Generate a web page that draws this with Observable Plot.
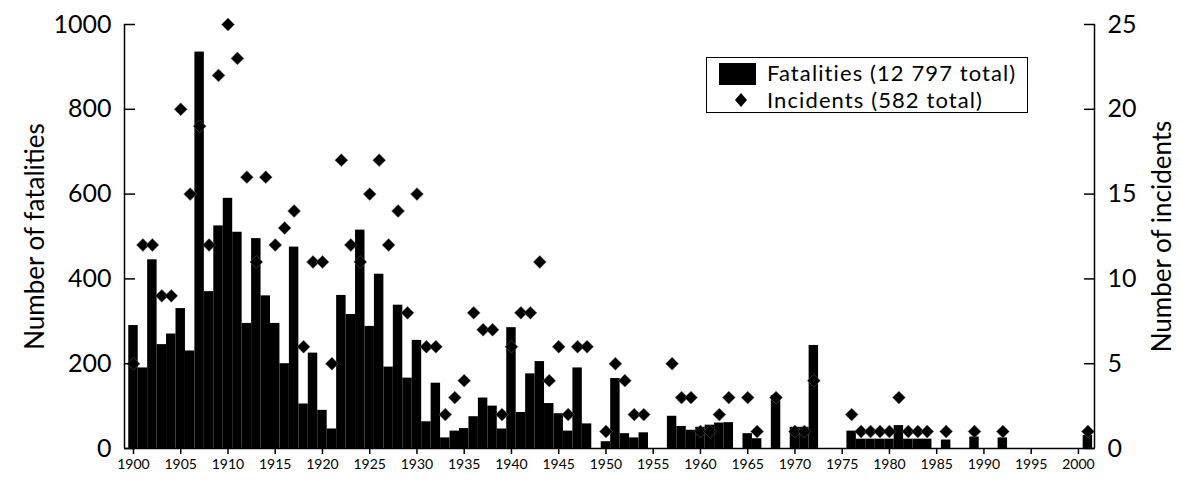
<!DOCTYPE html>
<html><head><meta charset="utf-8">
<script src="https://cdn.jsdelivr.net/npm/d3@7"></script>
<script src="https://cdn.jsdelivr.net/npm/@observablehq/plot@0.6"></script>
<style>
body{margin:0;background:#fff;}
#wrap{position:relative;width:1180px;height:483px;font-family:Lato,"Liberation Sans",sans-serif;color:#000;}
#legend{position:absolute;left:706px;top:57px;width:320px;height:54px;border:1.5px solid #000;background:#fff;}
#legend .sw{position:absolute;left:12px;top:5px;width:37px;height:22px;background:#000;}
#legend .dm{position:absolute;left:27px;top:34px;}
#legend .t{position:absolute;left:60px;font-size:22px;line-height:22px;letter-spacing:1.1px;white-space:nowrap;}
</style></head><body><div id="wrap"></div>
<script>
const years = [1900,1901,1902,1903,1904,1905,1906,1907,1908,1909,1910,1911,1912,1913,1914,1915,1916,1917,1918,1919,1920,1921,1922,1923,1924,1925,1926,1927,1928,1929,1930,1931,1932,1933,1934,1935,1936,1937,1938,1939,1940,1941,1942,1943,1944,1945,1946,1947,1948,1950,1951,1952,1953,1954,1957,1958,1959,1960,1961,1962,1963,1965,1966,1968,1970,1971,1972,1976,1977,1978,1979,1980,1981,1982,1983,1984,1986,1989,1992,2001];
const fatalities = [290,190,445,245,270,330,230,935,370,525,590,510,295,495,360,295,200,475,105,225,90,46,361,316,515,288,411,192,338,166,255,63,154,25,41,47,75,119,100,46,285,85,176,205,106,82,41,190,58,16,165,35,25,37,76,52,43,50,55,60,61,35,23,125,50,50,243,41,22,22,22,22,54,22,22,22,20,27,25,31];
const incidents = [5,12,12,9,9,20,15,19,12,22,25,23,16,11,16,12,13,14,6,11,11,5,17,12,11,15,17,12,14,8,15,6,6,2,3,4,8,7,7,2,6,8,8,11,4,6,2,6,6,1,5,4,2,2,5,3,3,1,1,2,3,3,1,3,1,1,4,2,1,1,1,1,3,1,1,1,1,1,1,1];
const xTicks = [1900,1905,1910,1915,1920,1925,1930,1935,1940,1945,1950,1955,1960,1965,1970,1975,1980,1985,1990,1995,2000];
const fatTicks = [0,200,400,600,800,1000];
const xDomain = [1899.05, 2001.7];
const fatMax = 1000, incMax = 25;
const ratio = fatMax / incMax;

const data = years.map((y, i) => ({year: y, fat: fatalities[i], inc: incidents[i]}));

const plot = Plot.plot({
  width: 1180, height: 483,
  marginLeft: 124, marginRight: 86, marginTop: 24, marginBottom: 35,
  style: {fontFamily: "Lato, 'Liberation Sans', sans-serif", color: "#000", background: "#fff", overflow: "visible"},
  x: {domain: xDomain},
  y: {domain: [0, fatMax]},
  marks: [
    Plot.rectY(data, {x1: d => d.year - 0.5, x2: d => d.year + 0.5, y: "fat", fill: "#000"}),
    Plot.dot(data.filter(d => d.inc > 0), {x: "year", y: d => d.inc * ratio, symbol: "diamond2", r: 5.8, fill: "#000", stroke: "#666", strokeWidth: 0.5}),
    Plot.ruleX(xDomain, {stroke: "#000", strokeWidth: 1.5}),
    Plot.ruleY([0], {stroke: "#000", strokeWidth: 1.5}),
    Plot.axisX({ticks: xTicks, tickFormat: d => String(d), tickSize: 6, tickPadding: 5, fontSize: 14, strokeWidth: 1.5, label: null}),
    Plot.axisY({ticks: fatTicks, anchor: "left", tickSize: 11, dx: 11, tickPadding: 13, fontSize: 25, strokeWidth: 1.5, tickFormat: d => String(d), label: null}),
    Plot.axisY({ticks: fatTicks, anchor: "right", tickSize: 11, dx: -11, tickPadding: 13, fontSize: 25, strokeWidth: 1.5, tickFormat: d => String(d / ratio), label: null}),
    Plot.text(["Number of fatalities"], {frameAnchor: "left", dx: -89, rotate: -90, textAnchor: "middle", fontSize: 26}),
    Plot.text(["Number of incidents"], {frameAnchor: "right", dx: 68, rotate: -90, textAnchor: "middle", fontSize: 26})
  ]
});
const wrap = document.getElementById("wrap");
wrap.appendChild(plot);
const lg = document.createElement("div");
lg.id = "legend";
lg.innerHTML = '<div class="sw"></div><div class="t" style="top:4px">Fatalities (12 797 total)</div>' +
  '<svg class="dm" width="14" height="16" viewBox="-7 -8 14 16"><path d="M0,-7L6,0L0,7L-6,0Z" fill="#000"/></svg>' +
  '<div class="t" style="top:31px">Incidents (582 total)</div>';
wrap.appendChild(lg);
</script>
</body></html>
